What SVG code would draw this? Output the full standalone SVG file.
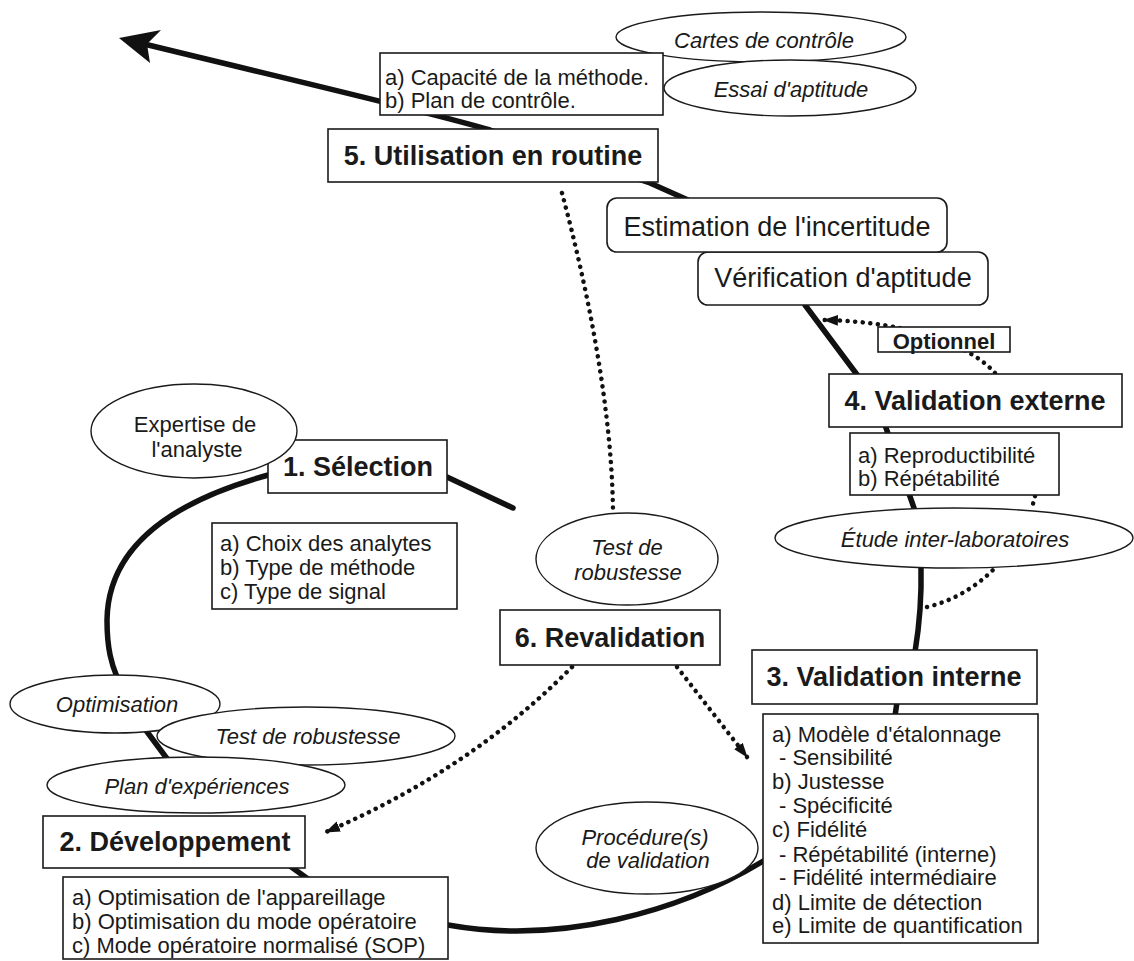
<svg xmlns="http://www.w3.org/2000/svg" width="1134" height="961" viewBox="0 0 1134 961">
<defs>
<style>
text{font-family:"Liberation Sans",Arial,Helvetica,sans-serif;fill:#1a1a1a}
.t{font-size:27px;font-weight:bold;text-anchor:middle}
.r{font-size:27px;text-anchor:middle}
.l{font-size:22px}
.i{font-size:22px;font-style:italic;text-anchor:middle}
.c{font-size:22px;text-anchor:middle}
.b{fill:#fff;stroke:#1a1a1a;stroke-width:1.6}
.e{fill:#fff;stroke:#1a1a1a;stroke-width:1.4}
.m{fill:none;stroke:#111;stroke-width:5.5;stroke-linecap:round}
.d{fill:none;stroke:#111;stroke-width:4.5;stroke-linecap:round;stroke-dasharray:0.1 7.5}
</style>
<marker id="ah" viewBox="0 0 14 10" refX="13" refY="5" markerWidth="15" markerHeight="11" markerUnits="userSpaceOnUse" orient="auto">
<path d="M0,0 L14,5 L0,10 Z" fill="#111"/>
</marker>
</defs>
<rect width="1134" height="961" fill="#fff"/>
<g id="connectors">
<path class="m" d="M140,43 C300,82 430,112 490,130 L650,183 L688,200"/>
<path d="M119,38 L161,30 L147,44 L150,63 Z" fill="#111"/>
<path class="m" d="M805,305 L858,376"/>
<path class="m" d="M885,425 L914,508"/>
<path class="m" d="M921,566 Q922,610 915,652"/>
<path class="m" d="M897,702 L895,716"/>
<path class="m" d="M765,860 C680,912 560,945 448,925"/>
<path class="m" d="M290,866 L308,879"/>
<path class="m" d="M145,729 L168,760"/>
<path class="m" d="M272,474 C175,500 108,545 107,620 C107,650 112,665 117,677"/>
<path class="m" d="M447,477 L513,508"/>
<path class="d" d="M562,193 C588,290 612,410 613,512"/>
<path class="d" d="M572,667 Q470,770 326,832" marker-end="url(#ah)"/>
<path class="d" d="M677,667 L747,757" marker-end="url(#ah)"/>
<path class="d" d="M995,373 C975,350 920,322 824,320" marker-end="url(#ah)"/>
<path class="d" d="M927,607 Q965,598 995,568"/>
<path class="d" d="M1035,496 L1032,508"/>
</g>
<g id="cartes">
<ellipse class="e" cx="761" cy="37" rx="145" ry="25"/>
<text class="i" x="764" y="48">Cartes de contrôle</text>
</g>
<g id="essai">
<ellipse class="e" cx="790" cy="88" rx="126" ry="28"/>
<text class="i" x="791" y="97">Essai d'aptitude</text>
</g>
<g id="capacite">
<rect class="b" x="380" y="53" width="283" height="62"/>
<text class="l" x="385" y="85">a) Capacité de la méthode.</text>
<text class="l" x="385" y="108">b) Plan de contrôle.</text>
</g>
<g id="utilisation">
<rect class="b" x="328" y="129" width="330" height="53"/>
<text class="t" x="493" y="165">5. Utilisation en routine</text>
</g>
<g id="verification">
<rect class="b" x="698" y="252" width="290" height="53" rx="10"/>
<text class="r" x="843" y="287">Vérification d'aptitude</text>
</g>
<g id="estimation">
<rect class="b" x="607" y="198" width="340" height="54" rx="10"/>
<text class="r" x="777" y="236">Estimation de l'incertitude</text>
</g>
<g id="optionnel">
<rect class="b" x="878" y="327" width="132" height="25"/>
<text class="c" x="944" y="349" font-weight="bold">Optionnel</text>
</g>
<g id="validation-externe">
<rect class="b" x="829" y="374" width="293" height="53"/>
<text class="t" x="975" y="410">4. Validation externe</text>
</g>
<g id="reproductibilite">
<rect class="b" x="850" y="433" width="209" height="62"/>
<text class="l" x="858" y="463">a) Reproductibilité</text>
<text class="l" x="858" y="486">b) Répétabilité</text>
</g>
<g id="etude">
<ellipse class="e" cx="954" cy="538" rx="179" ry="30"/>
<text class="i" x="955" y="547">Étude inter-laboratoires</text>
</g>
<g id="validation-interne">
<rect class="b" x="752" y="650" width="285" height="54"/>
<text class="t" x="894" y="686">3. Validation interne</text>
</g>
<g id="criteres">
<rect class="b" x="763" y="714" width="275" height="229"/>
<text class="l" x="772" y="742">a) Modèle d'étalonnage</text>
<text class="l" x="779" y="765">- Sensibilité</text>
<text class="l" x="772" y="789">b) Justesse</text>
<text class="l" x="779" y="813">- Spécificité</text>
<text class="l" x="772" y="837">c) Fidélité</text>
<text class="l" x="779" y="862">- Répétabilité (interne)</text>
<text class="l" x="779" y="885">- Fidélité intermédiaire</text>
<text class="l" x="772" y="910">d) Limite de détection</text>
<text class="l" x="772" y="933">e) Limite de quantification</text>
</g>
<g id="procedure">
<ellipse class="e" cx="647" cy="848" rx="111" ry="46"/>
<text class="i" x="645" y="845">Procédure(s)</text>
<text class="i" x="648" y="868">de validation</text>
</g>
<g id="test-robustesse-revalidation">
<ellipse class="e" cx="627" cy="559" rx="91" ry="46"/>
<text class="i" x="627" y="555">Test de</text>
<text class="i" x="628" y="580">robustesse</text>
</g>
<g id="revalidation">
<rect class="b" x="500" y="610" width="220" height="55"/>
<text class="t" x="610" y="647">6. Revalidation</text>
</g>
<g id="selection">
<rect class="b" x="268" y="440" width="179" height="53"/>
<text class="t" x="358" y="476">1. Sélection</text>
</g>
<g id="expertise">
<ellipse class="e" cx="194" cy="431" rx="103" ry="47"/>
<text class="c" x="195" y="432">Expertise de</text>
<text class="c" x="197" y="457">l'analyste</text>
</g>
<g id="choix">
<rect class="b" x="212" y="523" width="245" height="86"/>
<text class="l" x="220" y="551">a) Choix des analytes</text>
<text class="l" x="220" y="575">b) Type de méthode</text>
<text class="l" x="220" y="599">c) Type de signal</text>
</g>
<g id="optimisation">
<ellipse class="e" cx="115" cy="704" rx="105" ry="29"/>
<text class="i" x="117" y="712">Optimisation</text>
</g>
<g id="test-robustesse-developpement">
<ellipse class="e" cx="306" cy="736" rx="149" ry="29"/>
<text class="i" x="308" y="744">Test de robustesse</text>
</g>
<g id="plan-experiences">
<ellipse class="e" cx="196" cy="785" rx="149" ry="28"/>
<text class="i" x="197" y="794">Plan d'expériences</text>
</g>
<g id="developpement">
<rect class="b" x="43" y="816" width="262" height="52"/>
<text class="t" x="175" y="851">2. Développement</text>
</g>
<g id="optimisations">
<rect class="b" x="63" y="877" width="385" height="82"/>
<text class="l" x="72" y="905">a) Optimisation de l'appareillage</text>
<text class="l" x="72" y="929">b) Optimisation du mode opératoire</text>
<text class="l" x="72" y="953">c) Mode opératoire normalisé (SOP)</text>
</g>
</svg>
